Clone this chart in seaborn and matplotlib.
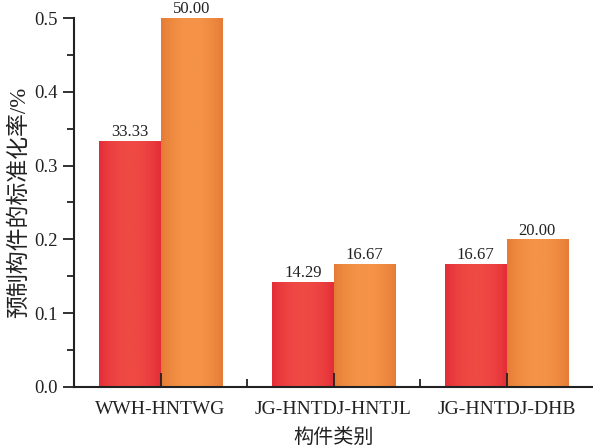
import numpy as np
import pandas as pd
import matplotlib
matplotlib.use("Agg")
import matplotlib.pyplot as plt
import matplotlib.colors as mcolors
from matplotlib.ticker import MultipleLocator, FormatStrFormatter
import seaborn as sns

# Component categories and standardization rates (%) for two series
categories = ["WWH-HNTWG", "JG-HNTDJ-HNTJL", "JG-HNTDJ-DHB"]
series_a_pct = [33.33, 14.29, 16.67]
series_b_pct = [50.00, 16.67, 20.00]
series_names = ["A", "B"]

rows = []
for cat, a, b in zip(categories, series_a_pct, series_b_pct):
    rows.append({"cat": cat, "series": series_names[0], "rate": a / 100})
    rows.append({"cat": cat, "series": series_names[1], "rate": b / 100})
df = pd.DataFrame(rows)

sns.set_theme(style="ticks")
plt.rcParams["font.family"] = ["Liberation Serif", "Noto Sans CJK SC"]
plt.rcParams["axes.unicode_minus"] = False

fig = plt.figure(figsize=(5.93, 4.48), dpi=100)
ax = fig.add_axes([0.1248, 0.1362, 0.8752, 0.8236])

palette = {"A": "#e8323a", "B": "#ec8439"}
sns.barplot(data=df, x="cat", y="rate", hue="series", palette=palette,
            width=0.71, legend=False, ax=ax, errorbar=None, saturation=1)

# Horizontal gradient fill for each bar: darker edges, lighter middle
edge_cols = {"A": ("#e32c38", "#f04a45"), "B": ("#e57b36", "#f59448")}
prof = np.linspace(0, 1, 64)
prof = np.sin(prof * np.pi) ** 0.8
for container, name in zip(ax.containers, series_names):
    dark, light = edge_cols[name]
    cmap = mcolors.LinearSegmentedColormap.from_list(name, [dark, light])
    for patch in container.patches:
        x0, y0 = patch.get_x(), patch.get_y()
        w, h = patch.get_width(), patch.get_height()
        im = ax.imshow(prof[np.newaxis, :], cmap=cmap, vmin=0, vmax=1,
                       extent=[x0, x0 + w, y0, y0 + h], aspect="auto",
                       origin="lower", zorder=patch.get_zorder(),
                       interpolation="bilinear")
        im.set_clip_path(patch)
        patch.set_facecolor("none")
        patch.set_edgecolor(mcolors.to_rgba(light, 0.5))
        patch.set_linewidth(0.6)

for container in ax.containers:
    ax.bar_label(container, labels=[f"{p.get_height() * 100:.2f}" for p in container.patches],
                 padding=0.5, fontsize=12, color="#222222")

ax.set_axisbelow(False)
ax.set_xlim(-0.5, 2.5)
ax.set_ylim(0, 0.5)
ax.yaxis.set_major_locator(MultipleLocator(0.1))
ax.yaxis.set_minor_locator(MultipleLocator(0.05))
ax.yaxis.set_major_formatter(FormatStrFormatter("%.1f"))
ax.set_xticks([0, 1, 2])
ax.set_xticks([0.5, 1.5], minor=True)

ax.tick_params(axis="y", which="major", direction="out", length=8, width=1.3,
               color="#222222", labelsize=13.5, labelcolor="#222222", pad=4)
ax.tick_params(axis="y", which="minor", direction="out", length=5, width=1.3,
               color="#222222")
ax.tick_params(axis="x", which="major", direction="in", length=10, width=1.3,
               color="#222222", labelsize=14, labelcolor="#222222", pad=10)
ax.tick_params(axis="x", which="minor", direction="in", length=6, width=1.3,
               color="#222222")

sns.despine(ax=ax)
for side in ("left", "bottom"):
    ax.spines[side].set_linewidth(1.5)
    ax.spines[side].set_color("#222222")

ax.set_xlabel("构件类别", fontsize=14.5, color="#222222", labelpad=8)
ax.set_ylabel("预制构件的标准化率/%", fontsize=16.5, color="#222222", labelpad=3)

fig.savefig("out.png", dpi=100)
